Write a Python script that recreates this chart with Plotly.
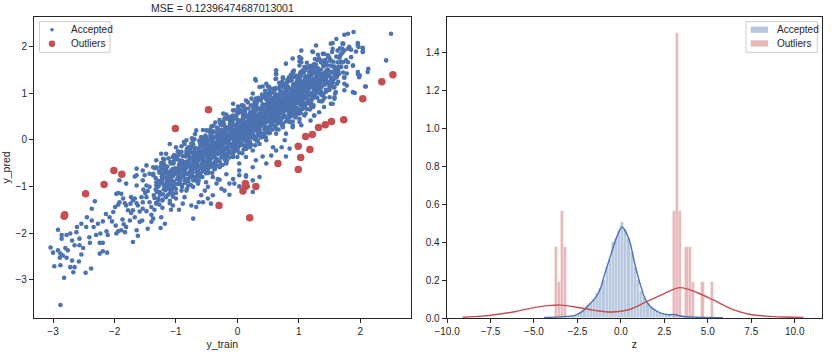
import plotly.graph_objects as go

# ---------------- data ----------------
# accepted points, sparse lower-left tail
acc_lower = [
(-2.88,-3.54),(-2.82,-2.96),(-2.98,-2.71),(-3.04,-2.31),(-3.0,-2.42),(-2.92,-2.37),(-2.89,-2.53),(-2.84,-2.48),
(-2.78,-2.53),(-2.76,-2.37),(-2.80,-2.32),(-2.88,-2.44),(-2.88,-2.69),(-2.72,-2.73),(-2.67,-2.84),(-2.65,-2.73),
(-2.58,-2.61),(-2.69,-2.59),(-2.54,-2.46),(-2.47,-2.85),(-2.38,-2.76),(-2.86,-2.12),(-2.92,-1.93),(-2.86,-2.04),
(-2.78,-2.04),(-2.72,-2.01),(-2.69,-2.16),(-2.65,-2.26),(-2.57,-2.26),(-2.51,-2.32),(-2.57,-2.12),(-2.62,-1.98),
(-2.61,-1.87),(-2.54,-1.80),(-2.46,-1.87),(-2.45,-1.66),(-2.37,-1.48),(-2.32,-1.32),(-2.37,-1.73),(-2.34,-1.87),
(-2.30,-2.04),(-2.41,-2.09),(-2.40,-2.21),(-2.24,-2.21),(-2.19,-2.21),(-2.23,-2.01),(-2.13,-1.96),(-2.11,-2.04),
(-2.19,-2.39),(-2.12,-2.42),(-2.24,-2.44),(-2.27,-1.80),(-2.19,-1.75),(-2.14,-1.59),(-2.08,-1.66),(-2.04,-1.75),
(-1.98,-1.84),(-1.97,-2.01),(-1.94,-1.96),(-2.02,-1.55),(-1.99,-1.44),(-1.94,-1.39),(-1.97,-1.16),(-1.94,-1.14),
(-1.89,-1.16),(-1.92,-1.34),(-1.86,-1.26),(-1.87,-1.71),(-1.85,-1.81),(-1.89,-1.94),(-1.83,-1.98),(-1.81,-1.87),
(-1.75,-1.73),(-1.73,-1.57),(-1.78,-1.51),(-1.81,-1.41),(-1.83,-1.36),(-1.74,-1.37),(-1.70,-1.30),(-1.73,-1.23),
(-1.67,-1.26),(-1.64,-1.36),(-1.62,-1.41),(-1.70,-1.51),(-1.67,-1.66),(-1.70,-2.19),(-1.64,-1.94),(-1.62,-2.06),
(-1.59,-1.76),(-1.55,-1.73),(-1.59,-1.54),(-1.54,-1.48),(-1.48,-1.53),(-1.54,-1.34),(-1.56,-1.23),(-1.48,-1.23),
(-1.50,-1.14),(-1.46,-1.10),(-1.53,-1.07),(-1.48,-0.98),(-1.43,-1.34),(-1.40,-1.44),(-1.40,-1.61),(-1.37,-1.69),
(-1.40,-1.76),(-1.46,-1.91),(-1.35,-1.50),(-1.32,-1.37),(-1.29,-1.29),(-1.36,-1.19),(-1.33,-1.07),(-1.27,-1.12),
(-1.24,-1.66),(-1.25,-1.89),(-1.18,-1.80),(-1.22,-1.46),(-1.22,-1.30),(-1.16,-1.23),(-1.10,-1.36),(-1.08,-1.50),
(-1.05,-1.41),(-1.16,-0.96),(-1.10,-1.05),(-1.05,-1.16),(-1.0,-1.26),(-0.95,-1.50),(-0.89,-1.37),(-0.86,-1.23),
(-0.83,-1.09),(-0.80,-0.98),(-0.75,-1.41),(-0.72,-1.69),(-0.67,-1.44),(-0.63,-1.34),(-0.59,-1.19),(-0.56,-1.34),
(-0.53,-1.09),(-0.48,-1.26),(-0.43,-1.37),(-0.40,-1.19),(-0.34,-0.94),(-0.26,-1.05),(-0.21,-1.09),(-0.13,-1.18),
(-0.05,-0.94),(0.03,-1.0),(0.17,-1.0),(0.25,-1.12),(0.36,-0.80),(0.14,-0.79),(0.03,-0.76),
(-1.67,-0.79),(-1.54,-0.87),(-1.37,-0.76),(-1.32,-0.91),(-1.21,-0.80),(-1.13,-0.87),(-1.05,-0.76),(-0.94,-0.84),
(-0.83,-0.73),(-0.72,-0.87),(-0.61,-0.79),(-0.51,-0.91),(-0.40,-0.80),(-0.29,-0.86),(-0.18,-0.74),(-0.07,-0.84),
(-1.81,-0.94),(-1.92,-0.87),(-1.64,-0.98),(-1.43,-1.01),(-1.32,-0.98),(-1.05,-0.98),(-0.91,-1.09),(-0.72,-1.01),
(-0.64,-0.94),(-0.48,-1.01),(-0.32,-0.84),(-0.13,-0.94),(0.25,-0.87),
]

# accepted points, fringe around the upper and middle part of the cloud
acc_upper = [
(2.50,2.27),(1.89,2.31),(1.80,2.27),(1.74,2.25),(1.61,2.16),(1.52,2.06),(1.55,2.07),(1.72,2.06),(1.80,1.95),
(1.85,1.93),(1.97,1.99),(2.04,1.96),(1.96,2.07),(2.04,1.88),(2.42,1.70),(2.13,1.52),(2.12,1.45),(1.96,1.45),
(1.99,1.38),(1.88,1.59),(1.80,1.66),(1.72,1.66),(1.66,1.77),(1.69,1.84),(2.09,1.14),(1.88,1.02),(1.78,1.16),
(1.74,1.34),(1.63,1.41),(1.58,1.13),(1.58,0.88),(1.50,0.91),(1.47,1.06),(1.34,1.27),(1.28,2.02),(1.23,1.88),
(1.39,1.84),(1.36,1.66),(1.31,1.49),(1.04,1.66),(1.01,1.59),(0.90,1.45),(0.87,1.27),(0.63,1.41),(0.63,1.31),
(0.58,1.09),(0.30,1.27),(0.14,0.84),(0.07,0.74),(0.02,0.66),(-0.12,0.49),(-0.18,0.45),(-0.26,0.31),(-0.32,0.24),
(-0.34,0.16),(-0.43,0.06),(-0.59,0.06),(-0.67,0.20),(-0.72,-0.01),(-0.75,-0.16),(-0.86,-0.09),(-0.91,-0.26),
(-1.10,-0.09),(-1.21,-0.41),(-1.24,-0.30),(-1.32,-0.59),(-1.48,-0.55),(-1.64,-0.62),(-1.64,-0.76),(-1.51,-0.76),
(-1.37,-0.73),(-1.21,-0.73),(-1.08,-0.66),(-1.08,-0.51),
(1.55,0.77),(1.39,0.84),(1.23,0.70),(1.25,0.52),(1.11,0.56),(1.01,0.45),(1.04,0.31),(0.90,0.27),(0.79,0.13),
(0.77,-0.01),(0.72,-0.16),(0.63,-0.23),(0.58,-0.16),(0.55,-0.34),(0.47,-0.51),(0.41,-0.36),(0.30,-0.44),
(0.25,-0.59),(0.14,-0.76),(0.03,-0.66),(0.85,-0.19),(0.79,-0.36),
(1.22,1.89),(1.41,1.84),(1.55,1.95),(1.63,1.91),(1.71,2.06),(1.71,1.95),(1.82,1.99),(1.96,2.02),(2.04,1.97),
(2.04,1.89),(1.93,1.89),(1.85,1.77),(1.77,1.70),(1.88,1.59),(1.96,1.41),(1.98,1.34),(2.08,1.14),(1.91,1.00),
(1.74,1.20),(1.74,1.06),(1.60,1.02),(1.58,0.91),(1.52,0.77),(1.41,0.70),(1.33,0.59),(1.25,0.52),(1.19,0.41),
(1.09,0.52),(1.01,0.38),(0.90,0.31),(0.29,1.30),(0.41,1.14),(0.52,1.13),(0.63,1.41),(0.62,1.30),(0.74,1.34),
(0.84,1.34),(0.91,1.46),(1.01,1.68),(1.04,1.74),(1.06,1.48),(1.14,1.55),(1.22,1.59),(1.28,1.55),(1.33,1.74),
(1.39,1.66),(1.47,1.81),(1.52,1.70),(1.63,1.66),(1.66,1.55),(1.58,1.48),(1.50,1.37),(1.55,1.23),(1.50,1.13),
(1.41,1.23),(1.36,1.13),(1.28,1.02),(1.22,0.88),(1.11,0.77),(1.06,0.66),(0.95,0.59),(0.85,0.48),(0.74,0.34),
(0.52,0.77),(0.41,0.91),(0.30,0.88),
(-0.40,-0.16),(-0.51,-0.30),(-0.62,-0.26),(-0.67,-0.44),(-0.78,-0.37),(-0.83,-0.59),(-0.94,-0.51),(-1.0,-0.66),
(-1.05,-0.37),(-1.16,-0.59),(-1.27,-0.66),(-1.37,-0.59),(-1.43,-0.73),(-1.54,-0.66),(-1.32,-0.44),(-1.16,-0.30),
(-1.0,-0.16),(-0.83,-0.01),(-0.56,0.21),(-0.51,0.02),(-0.40,0.17),(-0.29,0.42),(-0.23,0.56),(-0.07,0.63),
(-0.07,0.77),(0.25,0.99),(0.36,1.13),(0.47,1.20),(0.63,1.49),(0.79,1.63),(0.90,1.74),(1.01,1.77),(1.04,1.91),
(0.36,-0.09),(0.47,-0.01),(0.63,0.13),(0.74,0.27),(0.85,0.38),(0.96,0.56),(0.25,-0.23),(0.14,-0.37),(0.03,-0.51),
(-0.07,-0.37),(-0.18,-0.51),(-0.29,-0.59),(0.20,-0.16),
]

# accepted points, dense core of the cloud (first pass)
acc_core = [
(-1.33,-0.82),(-1.31,-1.12),(-1.28,-0.95),(-1.35,-1.25),(-1.27,-0.70),(-1.30,-1.02),(-1.34,-0.61),(-1.26,-1.18),(-1.29,-0.88),(-1.32,-1.35),
(-1.22,-0.78),(-1.18,-1.01),(-1.24,-0.92),(-1.16,-0.66),(-1.21,-1.17),(-1.19,-0.55),(-1.23,-0.85),(-1.17,-1.08),(-1.25,-0.71),(-1.20,-0.97),(-1.15,-0.81),(-1.22,-1.28),
(-1.12,-0.70),(-1.08,-0.92),(-1.14,-0.58),(-1.06,-1.05),(-1.11,-0.81),(-1.09,-0.48),(-1.13,-0.99),(-1.07,-0.74),(-1.15,-0.86),(-1.05,-0.63),(-1.10,-1.15),(-1.12,-0.40),(-1.06,-0.88),
(-1.02,-0.62),(-0.98,-0.84),(-1.04,-0.51),(-0.96,-0.95),(-1.01,-0.73),(-0.99,-0.42),(-1.03,-0.90),(-0.97,-0.66),(-1.05,-0.78),(-0.95,-0.55),(-1.00,-1.05),(-1.02,-0.34),(-0.96,-0.79),(-1.04,-0.99),
(-0.92,-0.55),(-0.88,-0.77),(-0.94,-0.44),(-0.86,-0.88),(-0.91,-0.65),(-0.89,-0.35),(-0.93,-0.82),(-0.87,-0.59),(-0.95,-0.71),(-0.85,-0.48),(-0.90,-0.97),(-0.92,-0.27),(-0.86,-0.70),(-0.94,-0.92),(-0.88,-0.52),
(-0.82,-0.47),(-0.78,-0.69),(-0.84,-0.36),(-0.76,-0.80),(-0.81,-0.57),(-0.79,-0.27),(-0.83,-0.74),(-0.77,-0.51),(-0.85,-0.63),(-0.75,-0.40),(-0.80,-0.89),(-0.82,-0.19),(-0.76,-0.62),(-0.84,-0.84),(-0.78,-0.44),(-0.80,-0.33),
(-0.72,-0.38),(-0.68,-0.60),(-0.74,-0.28),(-0.66,-0.71),(-0.71,-0.48),(-0.69,-0.18),(-0.73,-0.65),(-0.67,-0.42),(-0.75,-0.55),(-0.65,-0.31),(-0.70,-0.80),(-0.72,-0.10),(-0.66,-0.53),(-0.74,-0.76),(-0.68,-0.35),(-0.70,-0.24),(-0.67,-0.88),
(-0.62,-0.30),(-0.58,-0.52),(-0.64,-0.19),(-0.56,-0.63),(-0.61,-0.40),(-0.59,-0.10),(-0.63,-0.57),(-0.57,-0.34),(-0.65,-0.46),(-0.55,-0.22),(-0.60,-0.72),(-0.62,-0.02),(-0.56,-0.45),(-0.64,-0.67),(-0.58,-0.27),(-0.60,-0.15),(-0.57,-0.80),(-0.63,-0.38),
(-0.52,-0.21),(-0.48,-0.43),(-0.54,-0.11),(-0.46,-0.55),(-0.51,-0.32),(-0.49,-0.02),(-0.53,-0.48),(-0.47,-0.26),(-0.55,-0.38),(-0.45,-0.14),(-0.50,-0.63),(-0.52,0.06),(-0.46,-0.36),(-0.54,-0.58),(-0.48,-0.19),(-0.50,-0.07),(-0.47,-0.71),(-0.53,-0.29),(-0.49,-0.45),
(-0.42,-0.13),(-0.38,-0.35),(-0.44,-0.02),(-0.36,-0.46),(-0.41,-0.24),(-0.39,0.07),(-0.43,-0.40),(-0.37,-0.17),(-0.45,-0.29),(-0.35,-0.06),(-0.40,-0.55),(-0.42,0.15),(-0.36,-0.28),(-0.44,-0.50),(-0.38,-0.10),(-0.40,0.01),(-0.37,-0.62),(-0.43,-0.21),(-0.39,-0.37),(-0.41,-0.08),
(-0.32,-0.04),(-0.28,-0.26),(-0.34,0.06),(-0.26,-0.38),(-0.31,-0.15),(-0.29,0.16),(-0.33,-0.31),(-0.27,-0.09),(-0.35,-0.21),(-0.25,0.03),(-0.30,-0.46),(-0.32,0.24),(-0.26,-0.19),(-0.34,-0.41),(-0.28,-0.01),(-0.30,0.10),(-0.27,-0.53),(-0.33,-0.12),(-0.29,-0.28),(-0.31,0.01),(-0.25,-0.12),
(-0.22,0.04),(-0.18,-0.18),(-0.24,0.15),(-0.16,-0.29),(-0.21,-0.06),(-0.19,0.25),(-0.23,-0.23),(-0.17,0.00),(-0.25,-0.12),(-0.15,0.12),(-0.20,-0.38),(-0.22,0.33),(-0.16,-0.10),(-0.24,-0.33),(-0.18,0.08),(-0.20,0.19),(-0.17,-0.45),(-0.23,-0.03),(-0.19,-0.20),(-0.21,0.10),(-0.15,-0.04),(-0.25,0.02),
(-0.12,0.13),(-0.08,-0.09),(-0.14,0.23),(-0.06,-0.20),(-0.11,0.03),(-0.09,0.34),(-0.13,-0.14),(-0.07,0.09),(-0.15,-0.03),(-0.05,0.21),(-0.10,-0.29),(-0.12,0.42),(-0.06,-0.01),(-0.14,-0.24),(-0.08,0.17),(-0.10,0.28),(-0.07,-0.36),(-0.13,0.06),(-0.09,-0.11),(-0.11,0.19),(-0.05,0.05),(-0.15,0.11),(-0.08,0.50),
(-0.02,0.21),(0.02,-0.01),(-0.04,0.31),(0.04,-0.12),(-0.01,0.11),(0.01,0.42),(-0.03,-0.06),(0.03,0.17),(-0.05,0.05),(0.05,0.29),(0.00,-0.21),(-0.02,0.50),(0.04,0.07),(-0.04,-0.16),(0.02,0.25),(0.00,0.36),(0.03,-0.28),(-0.03,0.14),(0.01,-0.03),(-0.01,0.27),(0.05,0.13),(-0.05,0.19),(0.02,0.58),(-0.02,0.01),
(0.08,0.30),(0.12,0.08),(0.06,0.40),(0.14,-0.03),(0.09,0.20),(0.11,0.51),(0.07,0.03),(0.13,0.26),(0.05,0.14),(0.15,0.38),(0.10,-0.12),(0.08,0.59),(0.14,0.16),(0.06,-0.07),(0.12,0.34),(0.10,0.45),(0.13,-0.19),(0.07,0.23),(0.11,0.06),(0.09,0.36),(0.15,0.22),(0.05,0.28),(0.12,0.66),(0.08,0.10),(0.10,0.31),
(0.18,0.38),(0.22,0.16),(0.16,0.48),(0.24,0.05),(0.19,0.28),(0.21,0.59),(0.17,0.11),(0.23,0.34),(0.15,0.22),(0.25,0.46),(0.20,-0.04),(0.18,0.67),(0.24,0.24),(0.16,0.01),(0.22,0.42),(0.20,0.53),(0.23,-0.11),(0.17,0.31),(0.21,0.14),(0.19,0.44),(0.25,0.30),(0.15,0.36),(0.22,0.74),(0.18,0.19),(0.20,0.39),(0.24,0.58),
(0.28,0.47),(0.32,0.25),(0.26,0.57),(0.34,0.14),(0.29,0.37),(0.31,0.68),(0.27,0.20),(0.33,0.43),(0.25,0.31),(0.35,0.55),(0.30,0.05),(0.28,0.76),(0.34,0.33),(0.26,0.10),(0.32,0.51),(0.30,0.62),(0.33,-0.02),(0.27,0.40),(0.31,0.23),(0.29,0.53),(0.35,0.39),(0.25,0.45),(0.32,0.83),(0.28,0.28),(0.30,0.48),(0.34,0.67),(0.26,0.35),
(0.38,0.55),(0.42,0.33),(0.36,0.65),(0.44,0.22),(0.39,0.45),(0.41,0.76),(0.37,0.28),(0.43,0.51),(0.35,0.39),(0.45,0.63),(0.40,0.13),(0.38,0.84),(0.44,0.41),(0.36,0.18),(0.42,0.59),(0.40,0.70),(0.43,0.06),(0.37,0.48),(0.41,0.31),(0.39,0.61),(0.45,0.47),(0.35,0.53),(0.42,0.91),(0.38,0.36),(0.40,0.56),(0.44,0.75),(0.36,0.43),
(0.48,0.64),(0.52,0.42),(0.46,0.74),(0.54,0.31),(0.49,0.54),(0.51,0.85),(0.47,0.37),(0.53,0.60),(0.45,0.48),(0.55,0.72),(0.50,0.22),(0.48,0.93),(0.54,0.50),(0.46,0.27),(0.52,0.68),(0.50,0.79),(0.53,0.15),(0.47,0.57),(0.51,0.40),(0.49,0.70),(0.55,0.56),(0.45,0.62),(0.52,1.00),(0.48,0.45),(0.50,0.65),(0.54,0.84),(0.46,0.52),
(0.58,0.72),(0.62,0.50),(0.56,0.82),(0.64,0.39),(0.59,0.62),(0.61,0.93),(0.57,0.45),(0.63,0.68),(0.55,0.56),(0.65,0.80),(0.60,0.30),(0.58,1.01),(0.64,0.58),(0.56,0.35),(0.62,0.76),(0.60,0.87),(0.63,0.23),(0.57,0.65),(0.61,0.48),(0.59,0.78),(0.65,0.64),(0.55,0.70),(0.62,1.08),(0.58,0.53),(0.60,0.73),(0.64,0.92),(0.56,0.60),
(0.68,0.81),(0.72,0.59),(0.66,0.91),(0.74,0.48),(0.69,0.71),(0.71,1.02),(0.67,0.54),(0.73,0.77),(0.65,0.65),(0.75,0.89),(0.70,0.39),(0.68,1.10),(0.74,0.67),(0.66,0.44),(0.72,0.85),(0.70,0.96),(0.73,0.32),(0.67,0.74),(0.71,0.57),(0.69,0.87),(0.75,0.73),(0.65,0.79),(0.72,1.17),(0.68,0.62),(0.70,0.82),(0.74,1.01),
(0.78,0.89),(0.82,0.67),(0.76,0.99),(0.84,0.56),(0.79,0.79),(0.81,1.10),(0.77,0.62),(0.83,0.85),(0.75,0.73),(0.85,0.97),(0.80,0.47),(0.78,1.18),(0.84,0.75),(0.76,0.52),(0.82,0.93),(0.80,1.04),(0.83,0.40),(0.77,0.82),(0.81,0.65),(0.79,0.95),(0.85,0.81),(0.75,0.87),(0.82,1.25),(0.78,0.70),(0.80,0.90),
(0.88,0.98),(0.92,0.76),(0.86,1.08),(0.94,0.65),(0.89,0.88),(0.91,1.19),(0.87,0.71),(0.93,0.94),(0.85,0.82),(0.95,1.06),(0.90,0.56),(0.88,1.27),(0.94,0.84),(0.86,0.61),(0.92,1.02),(0.90,1.13),(0.93,0.49),(0.87,0.91),(0.91,0.74),(0.89,1.04),(0.95,0.90),(0.85,0.96),(0.92,1.34),(0.88,0.79),
(0.98,1.06),(1.02,0.84),(0.96,1.16),(1.04,0.73),(0.99,0.96),(1.01,1.27),(0.97,0.79),(1.03,1.02),(0.95,0.90),(1.05,1.14),(1.00,0.64),(0.98,1.35),(1.04,0.92),(0.96,0.69),(1.02,1.10),(1.00,1.21),(1.03,0.57),(0.97,0.99),(1.01,0.82),(0.99,1.12),(1.05,0.98),(0.95,1.04),(1.02,1.42),
(1.08,1.15),(1.12,0.93),(1.06,1.25),(1.14,0.82),(1.09,1.05),(1.11,1.36),(1.07,0.88),(1.13,1.11),(1.05,0.99),(1.15,1.23),(1.10,0.73),(1.08,1.44),(1.14,1.01),(1.06,0.78),(1.12,1.19),(1.10,1.30),(1.13,0.66),(1.07,1.08),(1.11,0.91),(1.09,1.21),(1.15,1.07),(1.05,1.13),
(1.18,1.23),(1.22,1.01),(1.16,1.33),(1.24,0.90),(1.19,1.13),(1.21,1.44),(1.17,0.96),(1.23,1.19),(1.15,1.07),(1.25,1.31),(1.20,0.81),(1.18,1.52),(1.24,1.09),(1.16,0.86),(1.22,1.27),(1.20,1.38),(1.23,0.74),(1.17,1.16),(1.21,0.99),(1.19,1.29),
(1.28,1.32),(1.32,1.10),(1.26,1.42),(1.34,0.99),(1.29,1.22),(1.31,1.53),(1.27,1.05),(1.33,1.28),(1.25,1.16),(1.35,1.40),(1.30,0.90),(1.28,1.61),(1.34,1.18),(1.26,0.95),(1.32,1.36),(1.30,1.47),(1.33,0.83),(1.27,1.25),
(1.38,1.40),(1.42,1.18),(1.36,1.50),(1.44,1.07),(1.39,1.30),(1.41,1.61),(1.37,1.13),(1.43,1.36),(1.35,1.24),(1.45,1.48),(1.40,0.98),(1.38,1.69),(1.44,1.26),(1.36,1.03),(1.42,1.44),
(1.48,1.49),(1.52,1.27),(1.46,1.59),(1.54,1.16),(1.49,1.39),(1.51,1.70),(1.47,1.22),(1.53,1.45),(1.45,1.33),(1.55,1.57),(1.50,1.07),(1.48,1.78),
(1.58,1.57),(1.62,1.35),(1.56,1.67),(1.64,1.24),(1.59,1.47),(1.61,1.78),(1.57,1.30),(1.63,1.53),(1.65,1.41),
(1.68,1.66),(1.72,1.44),(1.66,1.76),(1.74,1.33),(1.69,1.56),(1.71,1.87),
]

# accepted points, dense core of the cloud (second pass, between the first)
acc_core2 = [
(-1.22,-0.89),(-1.26,-1.13),(-1.21,-0.64),(-1.28,-0.99),(-1.24,-0.50),(-1.29,-1.26),(-1.23,-0.79),(-1.27,-1.39),(-1.20,-1.06),(-1.25,-0.58),
(-1.16,-0.81),(-1.11,-1.05),(-1.18,-0.56),(-1.14,-0.91),(-1.19,-0.42),(-1.13,-1.18),(-1.17,-0.71),(-1.10,-1.31),(-1.15,-0.98),(-1.20,-0.50),(-1.12,-0.76),
(-1.01,-0.72),(-1.08,-0.96),(-1.04,-0.47),(-1.09,-0.82),(-1.03,-0.33),(-1.07,-1.09),(-1.00,-0.62),(-1.05,-1.22),(-1.10,-0.89),(-1.02,-0.41),(-1.06,-0.67),(-1.03,-1.03),
(-0.98,-0.64),(-0.94,-0.88),(-0.99,-0.39),(-0.93,-0.74),(-0.97,-0.25),(-0.90,-1.01),(-0.95,-0.54),(-1.00,-1.14),(-0.92,-0.81),(-0.96,-0.33),(-0.93,-0.59),(-0.98,-0.95),(-0.91,-0.14),
(-0.84,-0.55),(-0.89,-0.79),(-0.83,-0.30),(-0.87,-0.65),(-0.80,-0.16),(-0.85,-0.92),(-0.90,-0.45),(-0.82,-1.05),(-0.86,-0.72),(-0.83,-0.24),(-0.88,-0.50),(-0.81,-0.86),(-0.87,-0.05),(-0.84,-0.59),
(-0.79,-0.47),(-0.73,-0.71),(-0.77,-0.22),(-0.70,-0.57),(-0.75,-0.08),(-0.80,-0.84),(-0.72,-0.37),(-0.76,-0.97),(-0.73,-0.64),(-0.78,-0.16),(-0.71,-0.42),(-0.77,-0.78),(-0.74,0.03),(-0.79,-0.51),(-0.70,-0.30),
(-0.63,-0.38),(-0.67,-0.62),(-0.60,-0.13),(-0.65,-0.48),(-0.70,0.01),(-0.62,-0.75),(-0.66,-0.28),(-0.63,-0.88),(-0.68,-0.55),(-0.61,-0.07),(-0.67,-0.33),(-0.64,-0.69),(-0.69,0.12),(-0.60,-0.42),(-0.62,-0.21),(-0.66,-0.80),
(-0.57,-0.30),(-0.50,-0.54),(-0.55,-0.05),(-0.60,-0.40),(-0.52,0.09),(-0.56,-0.67),(-0.53,-0.20),(-0.58,-0.80),(-0.51,-0.47),(-0.57,0.01),(-0.54,-0.25),(-0.59,-0.61),(-0.50,0.20),(-0.52,-0.34),(-0.56,-0.13),(-0.51,-0.72),
(-0.40,-0.21),(-0.45,-0.45),(-0.50,0.04),(-0.42,-0.31),(-0.46,0.18),(-0.43,-0.58),(-0.48,-0.11),(-0.41,-0.71),(-0.47,-0.38),(-0.44,0.10),(-0.49,-0.16),(-0.40,-0.52),(-0.42,0.29),(-0.46,-0.25),(-0.41,-0.04),(-0.48,-0.63),(-0.44,0.22),
(-0.35,-0.13),(-0.40,-0.37),(-0.32,0.12),(-0.36,-0.23),(-0.33,0.26),(-0.38,-0.50),(-0.31,-0.03),(-0.37,-0.63),(-0.34,-0.30),(-0.39,0.18),(-0.30,-0.08),(-0.32,-0.44),(-0.36,0.37),(-0.31,-0.17),(-0.38,0.04),(-0.34,-0.55),(-0.39,0.30),
(-0.30,-0.04),(-0.22,-0.28),(-0.26,0.21),(-0.23,-0.14),(-0.28,0.35),(-0.21,-0.41),(-0.27,0.06),(-0.24,-0.54),(-0.29,-0.21),(-0.20,0.27),(-0.22,0.01),(-0.26,-0.35),(-0.21,0.46),(-0.28,-0.08),(-0.24,0.13),(-0.29,-0.46),(-0.23,0.39),(-0.27,-0.17),
(-0.12,0.04),(-0.16,-0.20),(-0.13,0.29),(-0.18,-0.06),(-0.11,0.43),(-0.17,-0.33),(-0.14,0.14),(-0.19,-0.46),(-0.10,-0.13),(-0.12,0.35),(-0.16,0.09),(-0.11,-0.27),(-0.18,0.54),(-0.14,0.00),(-0.19,0.21),(-0.13,-0.38),(-0.17,0.47),(-0.10,-0.09),
(-0.06,0.13),(-0.03,-0.11),(-0.08,0.38),(-0.01,0.03),(-0.07,0.52),(-0.04,-0.24),(-0.09,0.23),(0.00,-0.37),(-0.02,-0.04),(-0.06,0.44),(-0.01,0.18),(-0.08,-0.18),(-0.04,0.63),(-0.09,0.09),(-0.03,0.30),(-0.07,-0.29),(0.00,0.56),(-0.05,0.00),(-0.10,0.35),
(0.07,0.21),(0.02,-0.03),(0.09,0.46),(0.03,0.11),(0.06,0.60),(0.01,-0.16),(0.10,0.31),(0.08,-0.29),(0.04,0.04),(0.09,0.52),(0.02,0.26),(0.06,-0.10),(0.01,0.71),(0.07,0.17),(0.03,0.38),(0.10,-0.21),(0.05,0.64),(0.00,0.08),(0.08,0.43),(0.04,0.28),
(0.12,0.30),(0.19,0.06),(0.13,0.55),(0.16,0.20),(0.11,0.69),(0.20,-0.07),(0.18,0.40),(0.14,-0.20),(0.19,0.13),(0.12,0.61),(0.16,0.35),(0.11,-0.01),(0.17,0.80),(0.13,0.26),(0.20,0.47),(0.15,-0.12),(0.10,0.73),(0.18,0.17),(0.14,0.52),(0.17,0.37),
(0.29,0.38),(0.23,0.14),(0.26,0.63),(0.21,0.28),(0.30,0.77),(0.28,0.01),(0.24,0.48),(0.29,-0.12),(0.22,0.21),(0.26,0.69),(0.21,0.43),(0.27,0.07),(0.23,0.88),(0.30,0.34),(0.25,0.55),(0.20,-0.04),(0.28,0.81),(0.24,0.25),(0.27,0.60),(0.22,0.45),
(0.33,0.47),(0.36,0.23),(0.31,0.72),(0.40,0.37),(0.38,0.86),(0.34,0.10),(0.39,0.57),(0.32,-0.03),(0.36,0.30),(0.31,0.78),(0.37,0.52),(0.33,0.16),(0.40,0.97),(0.35,0.43),(0.30,0.64),(0.38,0.05),(0.34,0.90),(0.37,0.34),(0.32,0.69),(0.39,0.54),
(0.46,0.55),(0.41,0.31),(0.50,0.80),(0.48,0.45),(0.44,0.94),(0.49,0.18),(0.42,0.65),(0.46,0.05),(0.41,0.38),(0.47,0.86),(0.43,0.60),(0.50,0.24),(0.45,1.05),(0.40,0.51),(0.48,0.72),(0.44,0.13),(0.47,0.98),(0.42,0.42),(0.49,0.77),(0.43,0.62),
(0.51,0.64),(0.60,0.40),(0.58,0.89),(0.54,0.54),(0.59,1.03),(0.52,0.27),(0.56,0.74),(0.51,0.14),(0.57,0.47),(0.53,0.95),(0.60,0.69),(0.55,0.33),(0.50,1.14),(0.58,0.60),(0.54,0.81),(0.57,0.22),(0.52,1.07),(0.59,0.51),(0.53,0.86),(0.56,0.71),
(0.70,0.72),(0.68,0.48),(0.64,0.97),(0.69,0.62),(0.62,1.11),(0.66,0.35),(0.61,0.82),(0.67,0.22),(0.63,0.55),(0.70,1.03),(0.65,0.77),(0.60,0.41),(0.68,1.22),(0.64,0.68),(0.67,0.89),(0.62,0.30),(0.69,1.15),(0.63,0.59),(0.66,0.94),(0.61,0.79),
(0.78,0.81),(0.74,0.57),(0.79,1.06),(0.72,0.71),(0.76,1.20),(0.71,0.44),(0.77,0.91),(0.73,0.31),(0.80,0.64),(0.75,1.12),(0.70,0.86),(0.78,0.50),(0.74,1.31),(0.77,0.77),(0.72,0.98),(0.79,0.39),(0.73,1.24),(0.76,0.68),(0.71,1.03),(0.80,0.88),
(0.84,0.89),(0.89,0.65),(0.82,1.14),(0.86,0.79),(0.81,1.28),(0.87,0.52),(0.83,0.99),(0.90,0.39),(0.85,0.72),(0.80,1.20),(0.88,0.94),(0.84,0.58),(0.87,1.39),(0.82,0.85),(0.89,1.06),(0.83,0.47),(0.86,1.32),(0.81,0.76),(0.90,1.11),(0.88,0.96),
(0.99,0.98),(0.92,0.74),(0.96,1.23),(0.91,0.88),(0.97,1.37),(0.93,0.61),(1.00,1.08),(0.95,0.48),(0.90,0.81),(0.98,1.29),(0.94,1.03),(0.97,0.67),(0.92,1.48),(0.99,0.94),(0.93,1.15),(0.96,0.56),(0.91,1.41),(1.00,0.85),(0.98,1.20),
(1.02,1.06),(1.06,0.82),(1.01,1.31),(1.07,0.96),(1.03,1.45),(1.10,0.69),(1.05,1.16),(1.00,0.56),(1.08,0.89),(1.04,1.37),(1.07,1.11),(1.02,0.75),(1.09,1.56),(1.03,1.02),(1.06,1.23),(1.01,0.64),(1.10,1.49),(1.08,0.93),
(1.16,1.15),(1.11,0.91),(1.17,1.40),(1.13,1.05),(1.20,1.54),(1.15,0.78),(1.10,1.25),(1.18,0.65),(1.14,0.98),(1.17,1.46),(1.12,1.20),(1.19,0.84),(1.13,1.65),(1.16,1.11),(1.11,1.32),(1.20,0.73),(1.18,1.58),
(1.21,1.23),(1.27,0.99),(1.23,1.48),(1.30,1.13),(1.25,1.62),(1.20,0.86),(1.28,1.33),(1.24,0.73),(1.27,1.06),(1.22,1.54),(1.29,1.28),(1.23,0.92),(1.26,1.73),(1.21,1.19),(1.30,1.40),
(1.37,1.32),(1.33,1.08),(1.40,1.57),(1.35,1.22),(1.30,1.71),(1.38,0.95),(1.34,1.42),(1.37,0.82),(1.32,1.15),(1.39,1.63),(1.33,1.37),(1.36,1.01),(1.31,1.82),
(1.43,1.40),(1.50,1.16),(1.45,1.65),(1.40,1.30),(1.48,1.79),(1.44,1.03),(1.47,1.50),(1.42,0.90),(1.49,1.23),(1.43,1.71),(1.46,1.45),
(1.60,1.49),(1.55,1.25),(1.50,1.74),(1.58,1.39),(1.54,1.88),(1.57,1.12),(1.52,1.59),(1.59,0.99),(1.53,1.32),
(1.65,1.57),(1.60,1.33),(1.68,1.82),(1.64,1.47),(1.67,1.96),(1.62,1.20),(1.69,1.67),
(1.70,1.66),(1.78,1.42),(1.74,1.91),(1.77,1.56),(1.72,2.05),
]

# outliers (red)
outlier_x = [-2.01,-1.88,-1.01,-0.47,0.66,0.99,0.99,1.03,1.11,1.18,1.22,1.32,1.43,1.53,1.73,2.04,2.35,2.53,
             -2.81,-2.82,-2.47,-2.17,-0.30,0.09,0.13,0.13,0.30,0.20]
outlier_y = [-0.66,-0.74,0.24,0.64,-0.51,-0.64,-0.14,-0.38,0.07,-0.21,0.11,0.26,0.32,0.39,0.43,0.88,1.24,1.39,
             -1.61,-1.64,-1.16,-0.96,-1.41,-1.10,-0.94,-1.00,-1.00,-1.67]

mse_text = "MSE = 0.12396474687013001"

# histogram of z for accepted points (density)
acc_bin_centers = [-3.71,-3.53,-3.35,-3.17,-2.99,-2.80,-2.62,-2.44,-2.26,-2.08,
                   -1.90,-1.72,-1.54,-1.36,-1.18,-0.99,-0.81,-0.63,-0.45,-0.27,
                   -0.09,0.09,0.27,0.45,0.64,0.82,1.00,1.18,1.36,1.54,
                   1.72,1.90,2.08,2.26,2.45,2.63,2.81,2.99,3.17,3.35,
                   3.53,3.71,3.89,4.07,4.26,4.44,4.62,4.80,4.98,5.16]
acc_bin_density = [0.004,0,0.004,0.004,0.008,0.011,0.015,0.023,0.030,0.045,
                   0.064,0.080,0.100,0.130,0.160,0.200,0.270,0.310,0.400,0.420,
                   0.460,0.505,0.470,0.420,0.350,0.270,0.200,0.140,0.110,0.080,
                   0.060,0.045,0.035,0.028,0.020,0.015,0.015,0.020,0.020,0.012,
                   0.008,0.004,0.004,0,0.004,0,0,0.004,0,0.004]
acc_bin_width = 0.181

# histogram of z for outliers (density)
out_bin_centers = [-3.74,-3.55,-3.37,-3.19,3.06,3.24,3.43,3.79,3.98,4.16,4.71,5.27]
out_bin_density = [0.375,0.188,0.563,0.375,0.563,1.50,0.563,0.375,0.375,0.188,0.188,0.188]
out_bin_width = 0.1838

# kde curves
acc_kde_z = [-4.41,-3.5,-2.64,-2.2,-1.88,-1.5,-1.2,-0.92,-0.63,-0.34,-0.11,0.06,0.27,0.52,0.8,1.09,1.38,1.67,1.95,2.3,2.75,3.1,3.5,4.4,5.88]
acc_kde_d = [0.003,0.006,0.014,0.036,0.066,0.102,0.15,0.235,0.318,0.40,0.455,0.48,0.455,0.40,0.285,0.185,0.104,0.063,0.042,0.026,0.017,0.018,0.009,0.004,0.002]
out_kde_z = [-9.1,-8.0,-7.05,-6.1,-5.13,-4.2,-3.45,-2.45,-1.5,-0.5,0.5,1.45,2.4,3.4,4.4,5.25,5.9,6.45,7.4,8.35,9.4,10.5]
out_kde_d = [0.004,0.010,0.020,0.033,0.052,0.065,0.068,0.055,0.040,0.032,0.045,0.085,0.125,0.16,0.133,0.098,0.068,0.044,0.02,0.01,0.005,0.003]

legend_labels = ["Accepted", "Outliers"]

# ---------------- figure ----------------
BLUE = "#4C72B0"
RED = "#C44E52"
BLUE_A = "rgba(76,114,176,0.4)"
RED_A = "rgba(196,78,82,0.4)"
TXT = "#262626"
FONT = "Liberation Sans, Arial, sans-serif"

W, H = 833, 353
ML, MR, MT, MB = 34, 11, 17, 35
PW, PH = W - ML - MR, H - MT - MB


def px(x):
    return (x - ML) / PW


def py(y):
    return 1 - (y - MT) / PH


acc_all = acc_lower + acc_upper + acc_core + acc_core2
acc_x = [p[0] for p in acc_all]
acc_y = [p[1] for p in acc_all]

fig = go.Figure()

fig.add_trace(go.Scatter(x=acc_x, y=acc_y, mode="markers", name=legend_labels[0], showlegend=False,
                         marker=dict(color=BLUE, size=4.6, line=dict(width=0)),
                         xaxis="x", yaxis="y"))
fig.add_trace(go.Scatter(x=outlier_x, y=outlier_y, mode="markers", name=legend_labels[1], showlegend=False,
                         marker=dict(color=RED, size=7.5, line=dict(width=0)),
                         xaxis="x", yaxis="y"))

fig.add_trace(go.Bar(x=acc_bin_centers, y=acc_bin_density, width=acc_bin_width, name=legend_labels[0],
                     showlegend=False,
                     marker=dict(color=BLUE_A, line=dict(color="rgba(255,255,255,0.6)", width=0.6)),
                     xaxis="x2", yaxis="y2"))
fig.add_trace(go.Scatter(x=acc_kde_z, y=acc_kde_d, mode="lines", line=dict(color=BLUE, width=1.4, shape="spline"),
                         showlegend=False, xaxis="x2", yaxis="y2"))
fig.add_trace(go.Bar(x=out_bin_centers, y=out_bin_density, width=out_bin_width, name=legend_labels[1],
                     showlegend=False,
                     marker=dict(color=RED_A, line=dict(color="rgba(255,255,255,0.6)", width=0.6)),
                     xaxis="x2", yaxis="y2"))
fig.add_trace(go.Scatter(x=out_kde_z, y=out_kde_d, mode="lines", line=dict(color=RED, width=1.4, shape="spline"),
                         showlegend=False, xaxis="x2", yaxis="y2"))

axis_common = dict(showline=True, linecolor=TXT, linewidth=1.1, mirror=True, ticks="outside",
                   ticklen=4, tickwidth=1, tickcolor=TXT, showgrid=False, zeroline=False, automargin=False,
                   tickfont=dict(family=FONT, size=10, color=TXT))

# hand-built legends (box, swatches, text)
shapes = []
annotations = []
# left legend
shapes.append(dict(type="rect", xref="paper", yref="paper", x0=px(39.5), x1=px(110), y0=py(52.3), y1=py(21.7),
                   line=dict(color="#cccccc", width=1), fillcolor="rgba(255,255,255,0.85)", layer="above"))
shapes.append(dict(type="circle", xref="paper", yref="paper", x0=px(50.2), x1=px(53.8), y0=py(31.5), y1=py(27.9),
                   line=dict(width=0), fillcolor=BLUE, layer="above"))
shapes.append(dict(type="circle", xref="paper", yref="paper", x0=px(48.8), x1=px(55.2), y0=py(46.9), y1=py(40.5),
                   line=dict(width=0), fillcolor=RED, layer="above"))
annotations.append(dict(text=legend_labels[0], x=px(68.5), y=py(29.7), xref="paper", yref="paper",
                        xanchor="left", yanchor="middle", showarrow=False,
                        font=dict(family=FONT, size=10, color=TXT)))
annotations.append(dict(text=legend_labels[1], x=px(68.5), y=py(43.7), xref="paper", yref="paper",
                        xanchor="left", yanchor="middle", showarrow=False,
                        font=dict(family=FONT, size=10, color=TXT)))
# right legend
shapes.append(dict(type="rect", xref="paper", yref="paper", x0=px(746), x1=px(817.3), y0=py(52.3), y1=py(21.7),
                   line=dict(color="#cccccc", width=1), fillcolor="rgba(255,255,255,0.85)", layer="above"))
shapes.append(dict(type="rect", xref="paper", yref="paper", x0=px(750.7), x1=px(768), y0=py(32.8), y1=py(26.7),
                   line=dict(width=0), fillcolor=BLUE_A, layer="above"))
shapes.append(dict(type="rect", xref="paper", yref="paper", x0=px(750.7), x1=px(768), y0=py(46.5), y1=py(40.3),
                   line=dict(width=0), fillcolor=RED_A, layer="above"))
annotations.append(dict(text=legend_labels[0], x=px(775.2), y=py(29.7), xref="paper", yref="paper",
                        xanchor="left", yanchor="middle", showarrow=False,
                        font=dict(family=FONT, size=10, color=TXT)))
annotations.append(dict(text=legend_labels[1], x=px(775.2), y=py(43.5), xref="paper", yref="paper",
                        xanchor="left", yanchor="middle", showarrow=False,
                        font=dict(family=FONT, size=10, color=TXT)))
# title over the left panel
annotations.append(dict(text=mse_text, x=0.239, y=1.0, xref="paper", yref="paper", xanchor="center",
                        yanchor="bottom", yshift=1, showarrow=False, font=dict(family=FONT, size=10.5, color=TXT)))

fig.update_layout(
    width=W, height=H,
    margin=dict(l=ML, r=MR, t=MT, b=MB),
    paper_bgcolor="white", plot_bgcolor="white",
    font=dict(family=FONT, size=10, color=TXT),
    barmode="overlay", bargap=0, showlegend=False,
    xaxis=dict(domain=[0, px(410.7)], range=[-3.31, 2.82], tickvals=[-3, -2, -1, 0, 1, 2],
               title=dict(text="y_train", standoff=4, font=dict(size=10.5)), **axis_common),
    yaxis=dict(domain=[0, 1], range=[-3.82, 2.63], tickvals=[-3, -2, -1, 0, 1, 2],
               title=dict(text="y_pred", standoff=6, font=dict(size=10.5)), **axis_common),
    xaxis2=dict(domain=[px(446.7), 1.0], range=[-10.02, 11.57], anchor="y2",
                tickvals=[-10, -7.5, -5, -2.5, 0, 2.5, 5, 7.5, 10], tickformat=".1f",
                title=dict(text="z", standoff=4, font=dict(size=10.5)), **axis_common),
    yaxis2=dict(domain=[0, 1], range=[0, 1.586], anchor="x2",
                tickvals=[0, 0.2, 0.4, 0.6, 0.8, 1.0, 1.2, 1.4], tickformat=".1f", **axis_common),
    shapes=shapes,
    annotations=annotations,
)

fig.write_html("out.html")
